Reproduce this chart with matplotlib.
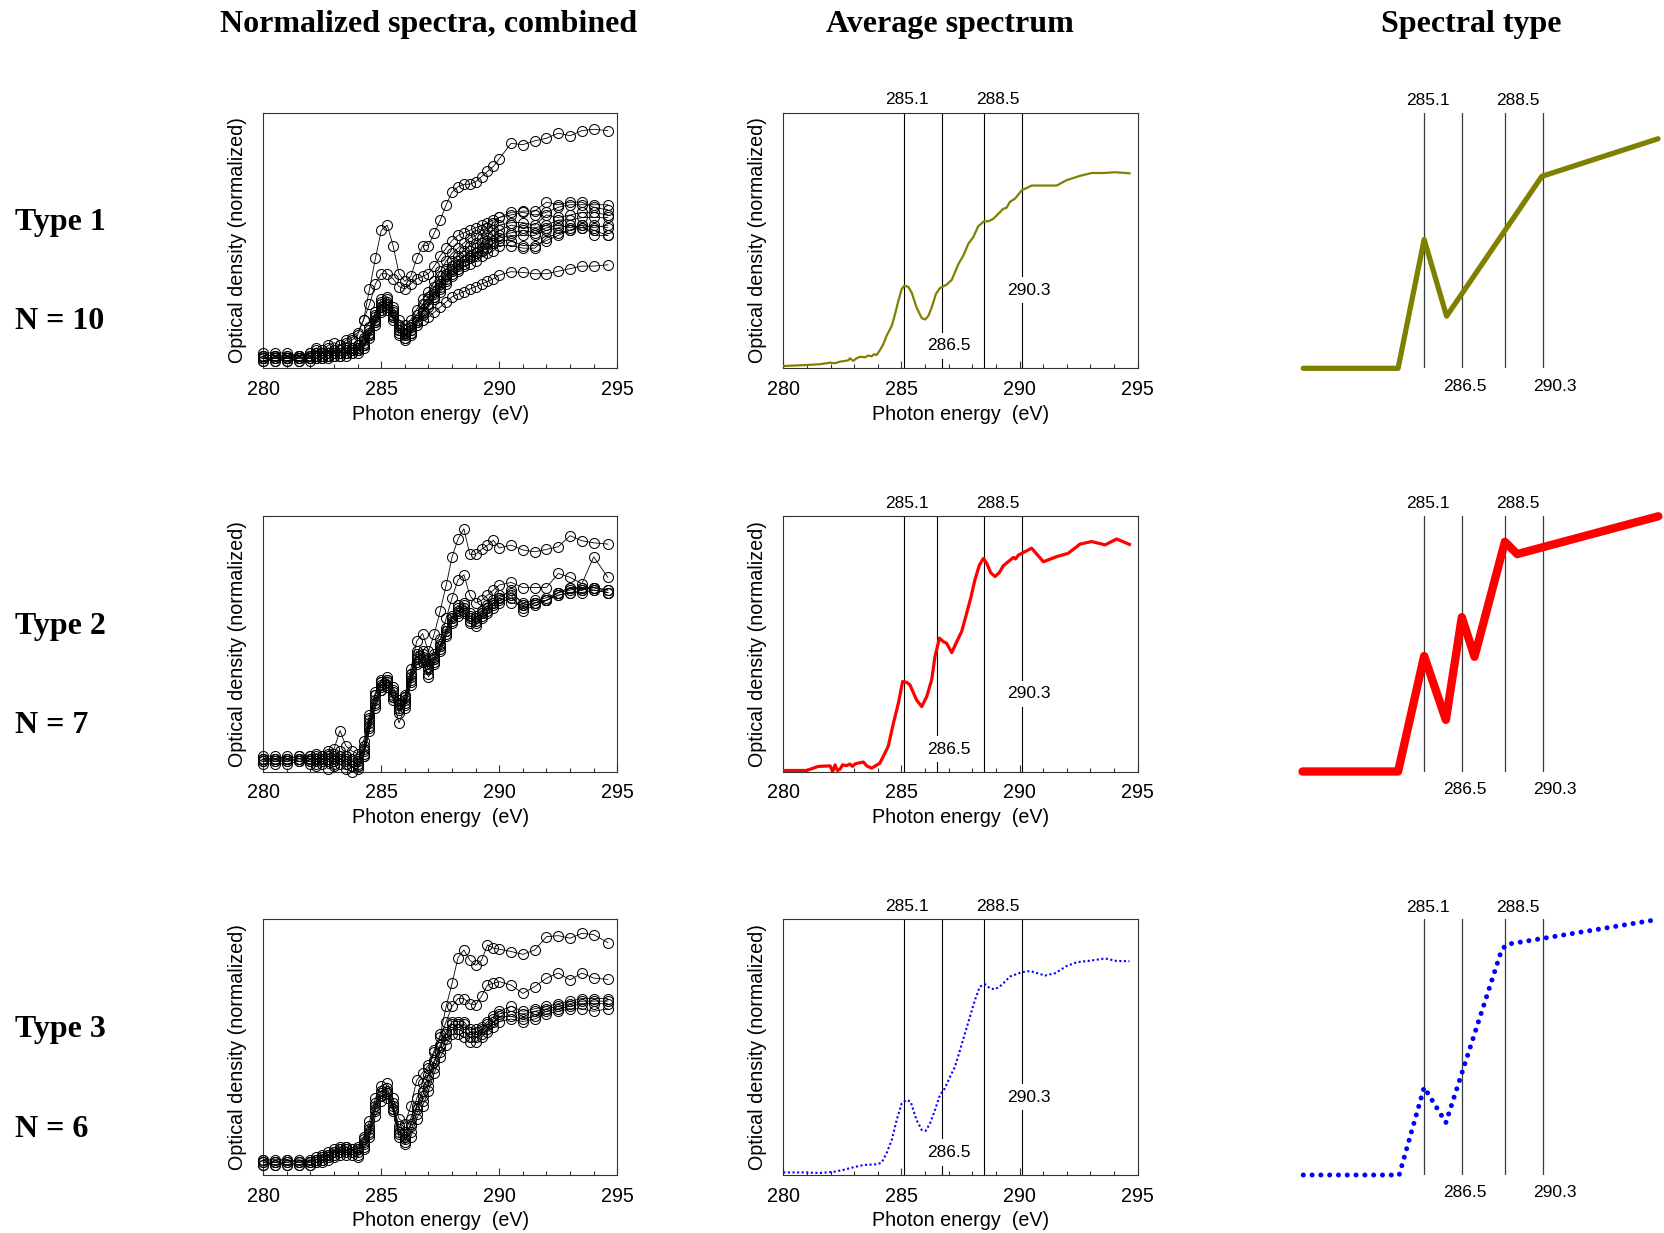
import matplotlib
matplotlib.use('Agg')
import matplotlib.pyplot as plt
from matplotlib.ticker import MultipleLocator
from matplotlib.transforms import blended_transform_factory

plt.rcParams['font.family'] = ['Liberation Sans', 'DejaVu Sans']

# ---------------- data ----------------
energy = [280, 280.5, 281, 281.5,
          282, 282.25, 282.5, 282.75, 283, 283.25, 283.5, 283.75, 284, 284.25,
          284.5, 284.75, 285, 285.25, 285.5, 285.75, 286, 286.25, 286.5, 286.75,
          287, 287.25, 287.5, 287.75, 288, 288.25, 288.5, 288.75, 289, 289.25,
          289.5, 289.75, 290,
          290.5, 291, 291.5, 292, 292.5, 293, 293.5, 294, 294.6]

# Type 1 individual spectra (normalized)
t1_a = [0.06, 0.06, 0.06, 0.05, 0.06, 0.07, 0.06, 0.08, 0.07, 0.09, 0.10, 0.11,
        0.13, 0.19, 0.31, 0.43, 0.54, 0.56, 0.48, 0.37, 0.34, 0.36, 0.43, 0.48,
        0.48, 0.53, 0.58, 0.64, 0.69, 0.71, 0.72, 0.72, 0.73, 0.75, 0.77, 0.79, 0.82,
        0.88, 0.875, 0.89, 0.90, 0.92, 0.91, 0.93, 0.935, 0.93]
t1_b = [0.05, 0.05, 0.04, 0.05, 0.06, 0.08, 0.07, 0.09, 0.10, 0.09, 0.11, 0.12,
        0.14, 0.19, 0.25, 0.33, 0.37, 0.37, 0.35, 0.32, 0.31, 0.33, 0.35, 0.36,
        0.37, 0.40, 0.44, 0.47, 0.50, 0.52, 0.53, 0.54, 0.55, 0.56, 0.57, 0.58, 0.59,
        0.61, 0.615, 0.615, 0.65, 0.64, 0.65, 0.65, 0.63, 0.62]
t1_c1 = [0.05, 0.05, 0.05, 0.05, 0.05, 0.06, 0.06, 0.06, 0.07, 0.07, 0.08, 0.08,
         0.09, 0.12, 0.16, 0.22, 0.27, 0.28, 0.24, 0.19, 0.17, 0.19, 0.23, 0.27,
         0.30, 0.34, 0.38, 0.42, 0.45, 0.47, 0.49, 0.51, 0.52, 0.54, 0.55, 0.57, 0.59,
         0.60, 0.61, 0.60, 0.61, 0.63, 0.64, 0.64, 0.64, 0.64]
t1_c2 = [0.04, 0.04, 0.05, 0.04, 0.05, 0.05, 0.06, 0.05, 0.06, 0.07, 0.07, 0.08,
         0.08, 0.11, 0.15, 0.21, 0.26, 0.27, 0.23, 0.17, 0.15, 0.17, 0.21, 0.25,
         0.28, 0.32, 0.36, 0.39, 0.42, 0.44, 0.46, 0.48, 0.49, 0.51, 0.52, 0.54, 0.56,
         0.57, 0.57, 0.56, 0.60, 0.59, 0.60, 0.61, 0.61, 0.60]
t1_c3 = [0.03, 0.04, 0.03, 0.04, 0.04, 0.05, 0.04, 0.05, 0.05, 0.06, 0.06, 0.07,
         0.07, 0.09, 0.13, 0.19, 0.24, 0.25, 0.21, 0.15, 0.13, 0.15, 0.19, 0.23,
         0.27, 0.30, 0.34, 0.37, 0.40, 0.42, 0.44, 0.46, 0.47, 0.49, 0.50, 0.52, 0.54,
         0.56, 0.55, 0.55, 0.56, 0.58, 0.58, 0.59, 0.59, 0.59]
t1_c4 = [0.04, 0.03, 0.04, 0.04, 0.04, 0.04, 0.05, 0.05, 0.05, 0.05, 0.06, 0.06,
         0.07, 0.09, 0.13, 0.18, 0.23, 0.24, 0.20, 0.14, 0.12, 0.14, 0.18, 0.22,
         0.25, 0.28, 0.32, 0.35, 0.38, 0.40, 0.42, 0.44, 0.45, 0.47, 0.49, 0.50, 0.52,
         0.53, 0.54, 0.53, 0.55, 0.56, 0.55, 0.56, 0.55, 0.56]
t1_c5 = [0.05, 0.05, 0.04, 0.05, 0.05, 0.06, 0.05, 0.06, 0.06, 0.07, 0.07, 0.07,
         0.08, 0.10, 0.14, 0.20, 0.25, 0.26, 0.22, 0.16, 0.13, 0.15, 0.19, 0.22,
         0.25, 0.28, 0.31, 0.34, 0.37, 0.39, 0.41, 0.43, 0.44, 0.46, 0.47, 0.49, 0.51,
         0.52, 0.52, 0.52, 0.54, 0.55, 0.56, 0.55, 0.56, 0.55]
t1_c6 = [0.03, 0.03, 0.03, 0.03, 0.03, 0.04, 0.04, 0.04, 0.05, 0.05, 0.05, 0.06,
         0.06, 0.08, 0.12, 0.17, 0.22, 0.23, 0.19, 0.13, 0.11, 0.13, 0.17, 0.21,
         0.24, 0.27, 0.30, 0.33, 0.36, 0.38, 0.40, 0.41, 0.42, 0.44, 0.45, 0.46, 0.48,
         0.48, 0.47, 0.47, 0.51, 0.53, 0.54, 0.56, 0.52, 0.52]
t1_c7 = [0.04, 0.04, 0.04, 0.03, 0.04, 0.05, 0.05, 0.05, 0.06, 0.06, 0.06, 0.07,
         0.07, 0.09, 0.13, 0.19, 0.24, 0.25, 0.21, 0.15, 0.12, 0.14, 0.18, 0.22,
         0.25, 0.29, 0.33, 0.36, 0.39, 0.41, 0.42, 0.44, 0.45, 0.46, 0.47, 0.49, 0.50,
         0.50, 0.48, 0.48, 0.50, 0.52, 0.54, 0.55, 0.54, 0.52]
t1_low = [0.04, 0.04, 0.04, 0.04, 0.04, 0.05, 0.05, 0.05, 0.06, 0.06, 0.06, 0.07,
          0.07, 0.09, 0.13, 0.18, 0.23, 0.24, 0.20, 0.15, 0.14, 0.16, 0.18, 0.19,
          0.20, 0.22, 0.24, 0.26, 0.28, 0.29, 0.30, 0.31, 0.32, 0.33, 0.34, 0.35, 0.365,
          0.378, 0.375, 0.37, 0.37, 0.38, 0.39, 0.40, 0.40, 0.405]

# Type 2 individual spectra
t2_a = [0.05, 0.05, 0.05, 0.06, 0.06, 0.07, 0.06, 0.08, 0.09, 0.16, 0.10, 0.08,
        0.07, 0.12, 0.22, 0.31, 0.36, 0.37, 0.33, 0.28, 0.30, 0.40, 0.51, 0.54,
        0.47, 0.54, 0.63, 0.73, 0.84, 0.91, 0.95, 0.85, 0.85, 0.87, 0.885, 0.905, 0.875,
        0.886, 0.867, 0.86, 0.869, 0.88, 0.923, 0.903, 0.895, 0.89]
t2_b = [0.04, 0.05, 0.04, 0.05, 0.05, 0.04, 0.06, 0.05, 0.07, 0.05, 0.06, 0.04,
        0.05, 0.10, 0.21, 0.30, 0.35, 0.36, 0.32, 0.27, 0.29, 0.38, 0.47, 0.47,
        0.42, 0.46, 0.52, 0.60, 0.68, 0.75, 0.77, 0.69, 0.66, 0.67, 0.69, 0.71, 0.73,
        0.74, 0.72, 0.72, 0.72, 0.775, 0.76, 0.735, 0.84, 0.76]
t2_c1 = [0.05, 0.05, 0.06, 0.05, 0.05, 0.06, 0.05, 0.06, 0.05, 0.06, 0.05, 0.04,
         0.03, 0.08, 0.19, 0.28, 0.34, 0.35, 0.30, 0.25, 0.28, 0.37, 0.45, 0.46,
         0.41, 0.45, 0.50, 0.56, 0.61, 0.65, 0.66, 0.62, 0.61, 0.63, 0.65, 0.67, 0.69,
         0.70, 0.66, 0.67, 0.68, 0.70, 0.71, 0.72, 0.71, 0.70]
t2_c2 = [0.04, 0.04, 0.04, 0.05, 0.04, 0.03, 0.05, 0.04, 0.03, 0.05, 0.04, 0.02,
         0.02, 0.07, 0.18, 0.27, 0.33, 0.34, 0.29, 0.24, 0.27, 0.36, 0.44, 0.44,
         0.40, 0.44, 0.49, 0.55, 0.60, 0.63, 0.64, 0.60, 0.59, 0.62, 0.64, 0.66, 0.68,
         0.66, 0.65, 0.66, 0.67, 0.69, 0.70, 0.71, 0.72, 0.71]
t2_c3 = [0.03, 0.03, 0.03, 0.04, 0.03, 0.02, 0.04, 0.01, 0.02, 0.03, 0.01, 0.00,
         0.01, 0.06, 0.17, 0.26, 0.32, 0.33, 0.29, 0.23, 0.26, 0.35, 0.43, 0.43,
         0.38, 0.43, 0.48, 0.54, 0.59, 0.62, 0.63, 0.59, 0.58, 0.61, 0.63, 0.65, 0.67,
         0.69, 0.63, 0.65, 0.67, 0.70, 0.72, 0.71, 0.72, 0.70]
t2_c4 = [0.06, 0.06, 0.05, 0.06, 0.06, 0.05, 0.06, 0.07, 0.06, 0.08, 0.06, 0.05,
         0.04, 0.09, 0.20, 0.30, 0.35, 0.36, 0.31, 0.26, 0.29, 0.38, 0.46, 0.45,
         0.40, 0.44, 0.49, 0.55, 0.60, 0.64, 0.65, 0.61, 0.60, 0.62, 0.64, 0.66, 0.68,
         0.71, 0.65, 0.66, 0.67, 0.70, 0.72, 0.72, 0.72, 0.71]
t2_c5 = [0.05, 0.04, 0.05, 0.04, 0.04, 0.05, 0.03, 0.04, 0.04, 0.05, 0.03, 0.02,
         0.02, 0.06, 0.16, 0.25, 0.32, 0.33, 0.28, 0.19, 0.25, 0.34, 0.42, 0.43,
         0.37, 0.42, 0.47, 0.53, 0.58, 0.61, 0.62, 0.58, 0.57, 0.60, 0.62, 0.64, 0.66,
         0.68, 0.64, 0.66, 0.67, 0.69, 0.70, 0.70, 0.71, 0.70]

# Type 3 individual spectra
t3_a = [0.06, 0.06, 0.06, 0.05, 0.06, 0.07, 0.08, 0.09, 0.10, 0.11, 0.11, 0.10,
        0.11, 0.15, 0.21, 0.30, 0.35, 0.36, 0.30, 0.22, 0.20, 0.27, 0.37, 0.40,
        0.43, 0.49, 0.55, 0.66, 0.75, 0.85, 0.88, 0.84, 0.82, 0.84, 0.90, 0.887, 0.883,
        0.874, 0.863, 0.88, 0.932, 0.936, 0.926, 0.945, 0.94, 0.909]
t3_b = [0.05, 0.05, 0.06, 0.05, 0.05, 0.06, 0.07, 0.08, 0.09, 0.10, 0.10, 0.10,
        0.10, 0.14, 0.19, 0.28, 0.33, 0.34, 0.28, 0.19, 0.17, 0.22, 0.30, 0.36,
        0.42, 0.48, 0.54, 0.60, 0.66, 0.69, 0.69, 0.67, 0.665, 0.70, 0.743, 0.75, 0.756,
        0.743, 0.71, 0.737, 0.77, 0.79, 0.763, 0.79, 0.77, 0.765]
t3_c1 = [0.04, 0.05, 0.04, 0.05, 0.04, 0.05, 0.06, 0.07, 0.08, 0.09, 0.09, 0.09,
         0.09, 0.12, 0.17, 0.26, 0.31, 0.32, 0.26, 0.17, 0.14, 0.19, 0.26, 0.31,
         0.37, 0.44, 0.50, 0.55, 0.59, 0.59, 0.59, 0.56, 0.56, 0.57, 0.59, 0.61, 0.63,
         0.64, 0.63, 0.64, 0.65, 0.66, 0.67, 0.68, 0.68, 0.68]
t3_c2 = [0.05, 0.04, 0.05, 0.04, 0.05, 0.06, 0.06, 0.07, 0.08, 0.09, 0.10, 0.09,
         0.08, 0.11, 0.16, 0.25, 0.31, 0.32, 0.26, 0.16, 0.13, 0.17, 0.24, 0.29,
         0.35, 0.42, 0.48, 0.53, 0.57, 0.57, 0.56, 0.54, 0.54, 0.55, 0.57, 0.60, 0.62,
         0.62, 0.61, 0.62, 0.64, 0.65, 0.66, 0.67, 0.67, 0.67]
t3_c3 = [0.06, 0.05, 0.05, 0.06, 0.05, 0.06, 0.07, 0.08, 0.09, 0.10, 0.11, 0.10,
         0.10, 0.13, 0.18, 0.27, 0.32, 0.33, 0.27, 0.18, 0.15, 0.20, 0.27, 0.33,
         0.39, 0.45, 0.51, 0.56, 0.60, 0.60, 0.60, 0.57, 0.57, 0.58, 0.60, 0.62, 0.64,
         0.66, 0.64, 0.65, 0.66, 0.67, 0.68, 0.69, 0.69, 0.69]
t3_c4 = [0.04, 0.04, 0.04, 0.04, 0.04, 0.05, 0.05, 0.06, 0.07, 0.08, 0.08, 0.08,
         0.07, 0.10, 0.15, 0.23, 0.29, 0.30, 0.25, 0.15, 0.12, 0.15, 0.22, 0.27,
         0.33, 0.40, 0.46, 0.51, 0.55, 0.55, 0.54, 0.52, 0.52, 0.54, 0.56, 0.58, 0.60,
         0.61, 0.60, 0.61, 0.63, 0.64, 0.65, 0.65, 0.64, 0.65]

type1_spectra = [t1_a, t1_b, t1_c1, t1_c2, t1_c3, t1_c4, t1_c5, t1_c6, t1_c7, t1_low]
type2_spectra = [t2_a, t2_b, t2_c1, t2_c2, t2_c3, t2_c4, t2_c5]
type3_spectra = [t3_a, t3_b, t3_c1, t3_c2, t3_c3, t3_c4]

# Average spectra
avg1_x = [280.03, 280.99, 281.55, 281.98, 282.19, 282.40, 282.75, 282.82, 282.96, 283.10,
          283.25, 283.46, 283.60, 283.74, 283.84, 283.95, 284.09, 284.23, 284.37, 284.59,
          284.73, 284.87, 285.01, 285.12, 285.29, 285.43, 285.64, 285.86, 286.00, 286.14,
          286.28, 286.46, 286.63, 286.91, 287.13, 287.41, 287.62, 287.83, 288.04, 288.25,
          288.51, 288.68, 288.89, 289.17, 289.31, 289.45, 289.59, 289.81, 290.09, 290.51,
          291.57, 291.99, 292.56, 293.05, 293.55, 294.04, 294.65]
avg1_y = [0.009, 0.013, 0.016, 0.022, 0.020, 0.026, 0.031, 0.039, 0.029, 0.039,
          0.045, 0.043, 0.050, 0.047, 0.055, 0.052, 0.071, 0.094, 0.127, 0.166,
          0.212, 0.264, 0.310, 0.323, 0.319, 0.297, 0.238, 0.196, 0.191, 0.205,
          0.238, 0.291, 0.314, 0.327, 0.346, 0.408, 0.441, 0.487, 0.513, 0.556,
          0.576, 0.575, 0.585, 0.611, 0.624, 0.628, 0.651, 0.664, 0.696, 0.715,
          0.715, 0.736, 0.753, 0.764, 0.764, 0.767, 0.763]

avg2_x = [280.00, 280.99, 281.48, 281.98, 282.09, 282.19, 282.29, 282.40, 282.51, 282.68,
          282.82, 282.93, 283.03, 283.17, 283.39, 283.53, 283.74, 283.92, 284.09, 284.23,
          284.44, 284.66, 284.87, 285.05, 285.22, 285.36, 285.64, 285.86, 286.07, 286.28,
          286.42, 286.61, 286.78, 286.91, 287.13, 287.34, 287.55, 287.76, 287.93, 288.11,
          288.30, 288.47, 288.61, 288.78, 288.96, 289.14, 289.31, 289.52, 289.74, 289.83,
          289.95, 290.16, 290.51, 291.01, 291.57, 292.06, 292.56, 293.05, 293.62, 294.11,
          294.65]
avg2_y = [0.004, 0.004, 0.020, 0.022, 0.000, 0.026, 0.004, 0.009, 0.026, 0.023,
          0.029, 0.020, 0.029, 0.033, 0.037, 0.022, 0.013, 0.023, 0.033, 0.059,
          0.098, 0.189, 0.267, 0.352, 0.349, 0.339, 0.280, 0.254, 0.293, 0.359,
          0.450, 0.522, 0.508, 0.502, 0.465, 0.508, 0.548, 0.619, 0.678, 0.750,
          0.808, 0.834, 0.815, 0.778, 0.763, 0.778, 0.805, 0.821, 0.838, 0.832,
          0.847, 0.857, 0.874, 0.821, 0.841, 0.854, 0.890, 0.900, 0.887, 0.910,
          0.889]

avg3_x = [280.00, 280.85, 281.55, 282.12, 282.54, 282.96, 283.39, 283.95, 284.16, 284.37,
          284.59, 284.80, 285.01, 285.22, 285.39, 285.64, 285.86, 286.03, 286.21, 286.42,
          286.63, 286.84, 287.06, 287.27, 287.48, 287.69, 287.90, 288.11, 288.32, 288.54,
          288.75, 288.96, 289.24, 289.59, 290.09, 290.44, 291.08, 291.50, 291.99, 292.42,
          292.98, 293.62, 294.11, 294.65]
avg3_y = [0.010, 0.010, 0.008, 0.012, 0.020, 0.030, 0.039, 0.042, 0.048, 0.085,
          0.137, 0.215, 0.280, 0.293, 0.287, 0.215, 0.176, 0.173, 0.202, 0.254,
          0.313, 0.339, 0.385, 0.424, 0.489, 0.554, 0.619, 0.684, 0.737, 0.746,
          0.730, 0.726, 0.743, 0.776, 0.793, 0.798, 0.780, 0.789, 0.817, 0.832,
          0.838, 0.847, 0.837, 0.836]

peak_labels = ['285.1', '286.5', '288.5', '290.3']
peak_lines = [[285.1, 286.7, 288.5, 290.1],
              [285.1, 286.5, 288.5, 290.1],
              [285.1, 286.7, 288.5, 290.1]]

# Schematic spectral types (schematic units)
type1_sx = [0.009, 0.271, 0.343, 0.405, 0.668, 0.989]
type1_sy = [0.0, 0.0, 0.504, 0.204, 0.751, 0.898]
type2_sx = [0.007, 0.271, 0.343, 0.403, 0.447, 0.482, 0.566, 0.600, 0.990]
type2_sy = [0.0, 0.0, 0.452, 0.202, 0.604, 0.449, 0.899, 0.851, 0.999]
type3_sx = [0.009, 0.274, 0.343, 0.403, 0.557, 0.571, 0.978]
type3_sy = [0.0, 0.0, 0.343, 0.205, 0.880, 0.902, 0.997]
schem_lines = [0.343, 0.448, 0.567, 0.671]
schem_label_x = [0.354, 0.456, 0.602, 0.704]

row_names = ['Type 1', 'Type 2', 'Type 3']
row_counts = ['N = 10', 'N = 7', 'N = 6']
col_titles = ['Normalized spectra, combined', 'Average spectrum', 'Spectral type']

# ---------------- layout ----------------
W, H = 1664, 1233
DPI = 100
fig = plt.figure(figsize=(W / DPI, H / DPI), dpi=DPI)


def rect(l, t, r, b):
    return [l / W, 1 - b / H, (r - l) / W, (b - t) / H]


rows_px = [(112.7, 368.3), (516.0, 771.5), (919.3, 1175.0)]
col1_px = (263.3, 617.3)
col2_px = (783.3, 1137.7)
col3_px = (1300.0, 1662.0)

FS = 12.5      # peak labels
AFS = 14.2     # axis labels / tick labels
SPINE = '#333333'


def style_spectrum_axes(ax):
    ax.set_xlim(280, 295)
    ax.set_ylim(0, 1)
    ax.set_xticks([280, 285, 290, 295])
    ax.xaxis.set_minor_locator(MultipleLocator(1))
    ax.set_yticks([])
    ax.tick_params(axis='x', which='major', direction='in', length=5, width=0.8,
                   labelsize=AFS, pad=8.5, color=SPINE)
    ax.tick_params(axis='x', which='minor', direction='in', length=3, width=0.8,
                   color=SPINE)
    for s in ax.spines.values():
        s.set_linewidth(0.8)
        s.set_color(SPINE)
    ax.set_xlabel('Photon energy  (eV)', fontsize=AFS, labelpad=4)
    ax.set_ylabel('Optical density (normalized)', fontsize=AFS, labelpad=11.5)


avg_data = [(avg1_x, avg1_y), (avg2_x, avg2_y), (avg3_x, avg3_y)]
avg_styles = [dict(color='#808000', lw=1.6, ls='-'),
              dict(color='#ff0000', lw=2.3, ls='-'),
              dict(color='#0000ff', lw=1.5, ls=(0, (1, 1.2)))]
all_spectra = [type1_spectra, type2_spectra, type3_spectra]
schem = [(type1_sx, type1_sy), (type2_sx, type2_sy), (type3_sx, type3_sy)]
schem_styles = [dict(color='#808000', lw=3.8, solid_capstyle='round', solid_joinstyle='round'),
                dict(color='#ff0000', lw=6.0, solid_capstyle='round', solid_joinstyle='round'),
                dict(color='#0000ff', lw=3.6, ls=(0, (0.01, 1.75)), dash_capstyle='round')]

label_x_avg = [285.25, 287.0, 289.07, 290.40]

for r, (top, bot) in enumerate(rows_px):
    # column 1
    ax1 = fig.add_axes(rect(col1_px[0], top, col1_px[1], bot))
    for spec in all_spectra[r]:
        ax1.plot(energy, spec, '-', color='black', lw=0.6, marker='o', ms=7.2,
                 mfc='none', mec='black', mew=0.75, clip_on=False, zorder=3)
    style_spectrum_axes(ax1)

    # column 2
    ax2 = fig.add_axes(rect(col2_px[0], top, col2_px[1], bot))
    style_spectrum_axes(ax2)
    for xv in peak_lines[r]:
        ax2.axvline(xv, color='black', lw=0.8, zorder=1)
    ax2.plot(avg_data[r][0], avg_data[r][1], zorder=4, **avg_styles[r])
    tr = blended_transform_factory(ax2.transData, ax2.transAxes)
    ax2.text(label_x_avg[0], 1.05, peak_labels[0], transform=tr, ha='center', va='center',
             fontsize=FS)
    ax2.text(label_x_avg[2], 1.05, peak_labels[2], transform=tr, ha='center', va='center',
             fontsize=FS)
    ax2.text(label_x_avg[1], 0.088, peak_labels[1], transform=tr, ha='center', va='center',
             fontsize=FS, zorder=3, bbox=dict(fc='white', ec='none', pad=4))
    ax2.text(label_x_avg[3], 0.305, peak_labels[3], transform=tr, ha='center', va='center',
             fontsize=FS, zorder=3, bbox=dict(fc='white', ec='none', pad=4))

    # column 3
    ax3 = fig.add_axes(rect(col3_px[0], top, col3_px[1], bot))
    ax3.set_xlim(0, 1)
    ax3.set_ylim(0, 1)
    ax3.axis('off')
    for xv in schem_lines:
        ax3.plot([xv, xv], [0, 1], color='#3a3a3a', lw=0.9, zorder=1)
    ax3.plot(schem[r][0], schem[r][1], clip_on=False, zorder=4, **schem_styles[r])
    ax3.text(schem_label_x[0], 1.048, peak_labels[0], ha='center', va='center', fontsize=FS)
    ax3.text(schem_label_x[2], 1.048, peak_labels[2], ha='center', va='center', fontsize=FS)
    ax3.text(schem_label_x[1], -0.07, peak_labels[1], ha='center', va='center', fontsize=FS)
    ax3.text(schem_label_x[3], -0.07, peak_labels[3], ha='center', va='center', fontsize=FS)

# column titles
serif = ['Liberation Serif', 'DejaVu Serif']
title_x = [428.7, 950.3, 1470.8]
for t, xp in zip(col_titles, title_x):
    fig.text(xp / W, 1 - 24.2 / H, t, ha='center', va='center', fontsize=23,
             fontweight='bold', family=serif)

# row labels
name_y = [222.9, 626.2, 1029.4]
count_y = [321.6, 725.9, 1129.2]
for nm, cn, yn, yc in zip(row_names, row_counts, name_y, count_y):
    fig.text(14.9 / W, 1 - yn / H, nm, ha='left', va='center', fontsize=23,
             fontweight='bold', family=serif)
    fig.text(14.9 / W, 1 - yc / H, cn, ha='left', va='center', fontsize=23,
             fontweight='bold', family=serif)

fig.savefig('out.png', dpi=DPI)
